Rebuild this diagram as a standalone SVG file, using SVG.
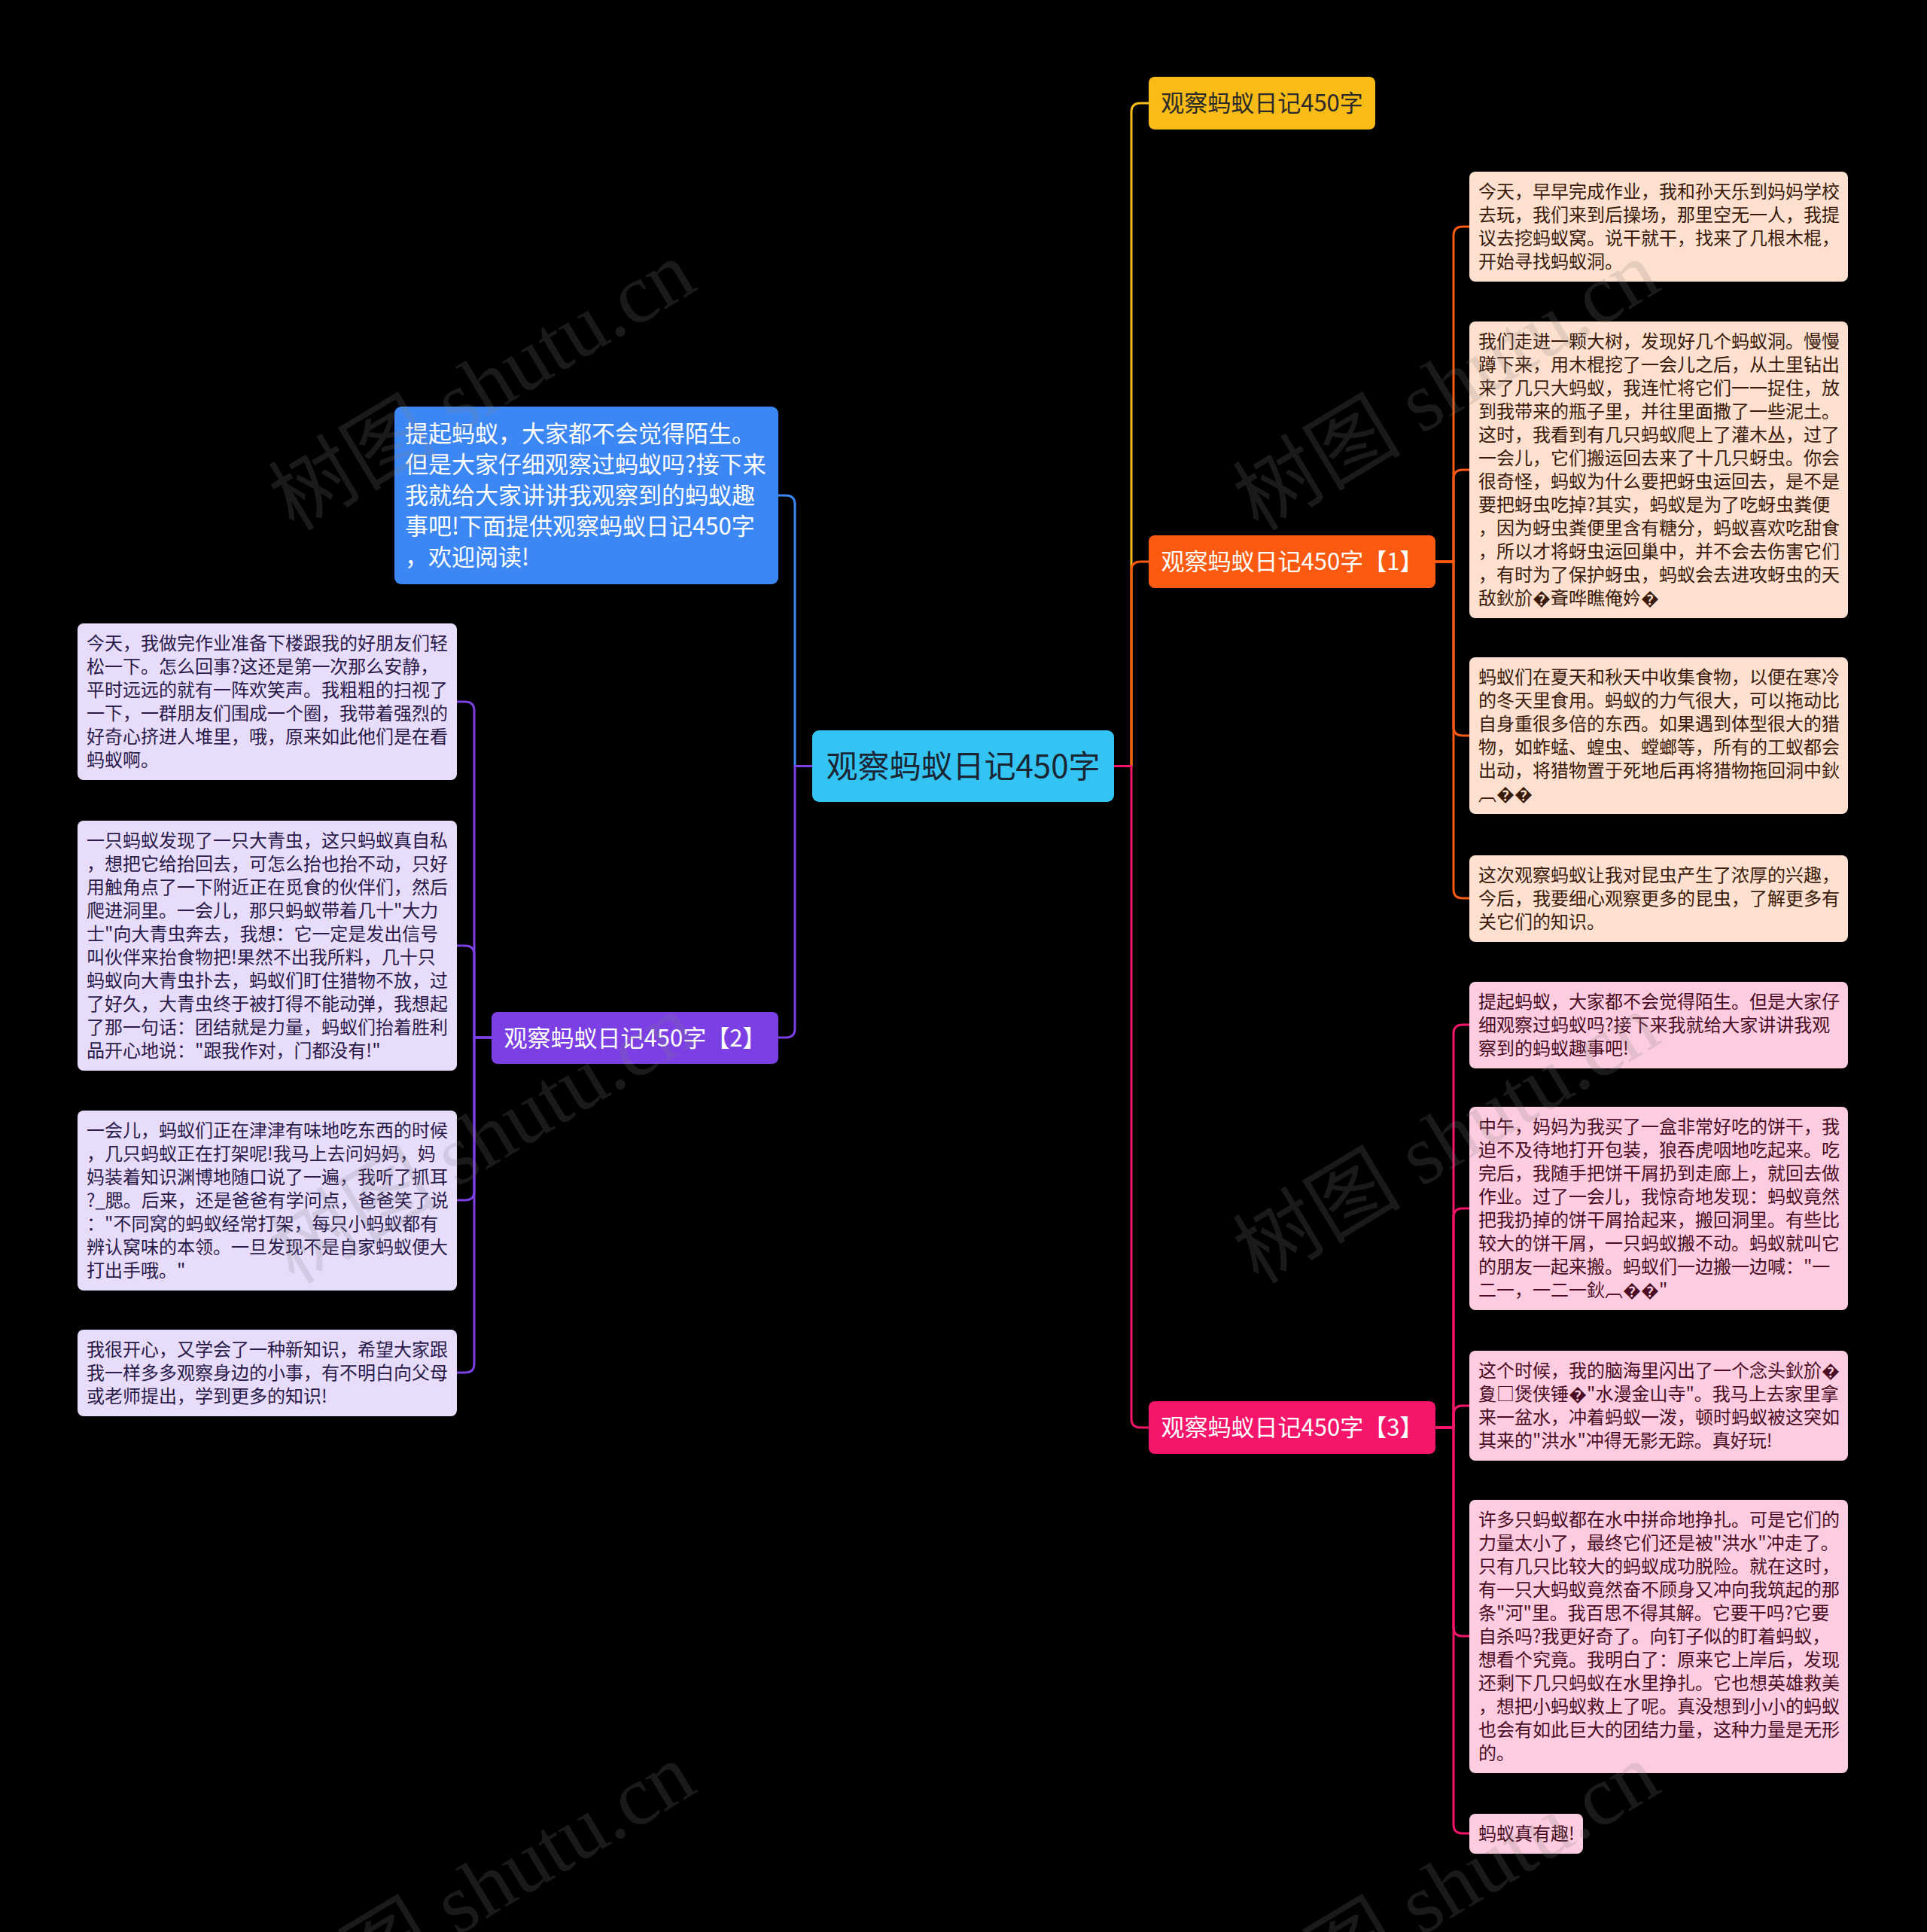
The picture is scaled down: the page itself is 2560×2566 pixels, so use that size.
<svg xmlns="http://www.w3.org/2000/svg" width="2560" height="2566" viewBox="0 0 2560 2566">
<style>
.bg{fill:#000}
.t{font-family:"Noto Sans CJK SC","Noto Sans",sans-serif}
.c{fill:none;stroke-width:3;stroke-linecap:round;stroke-linejoin:round}
.sm{font-size:24px}
.lav{fill:#e7dcfa}
.lavt{fill:#2a1a4a}
.pea{fill:#fde0cf}
.peat{fill:#3a1a0a}
.pnk{fill:#fdcce0}
.pnkt{fill:#4a0d24}
.main{font-size:31px}
.wm{font-family:"Liberation Serif","Noto Sans CJK SC",serif;font-size:112px;fill:#808080;fill-opacity:0.2}
</style>
<rect class="bg" x="0" y="0" width="2560" height="2566"/>

<g id="connectors">
  <path class="c" stroke="#f9bb16" d="M1480,1017.5 H1503 V149 Q1503,137 1515,137 H1526"/>
  <path class="c" stroke="#fc5a10" d="M1480,1017.5 H1503 V758 Q1503,746 1515,746 H1526"/>
  <path class="c" stroke="#f5166b" d="M1480,1017.5 H1503 V1884 Q1503,1896 1515,1896 H1526"/>
  <path class="c" stroke="#3c87f4" d="M1079,1017.5 H1056 V670 Q1056,658 1044,658 H1034"/>
  <path class="c" stroke="#7b3fe4" d="M1079,1017.5 H1056 V1366 Q1056,1378 1044,1378 H1034"/>
  <path class="c" stroke="#fc5a10" d="M1907,746 H1931 V313 Q1931,301 1943,301 H1952"/>
  <path class="c" stroke="#fc5a10" d="M1907,746 H1931 V636 Q1931,624 1943,624 H1952"/>
  <path class="c" stroke="#fc5a10" d="M1907,746 H1931 V965 Q1931,977 1943,977 H1952"/>
  <path class="c" stroke="#fc5a10" d="M1907,746 H1931 V1181 Q1931,1193 1943,1193 H1952"/>
  <path class="c" stroke="#f5166b" d="M1907,1896 H1931 V1373 Q1931,1361 1943,1361 H1952"/>
  <path class="c" stroke="#f5166b" d="M1907,1896 H1931 V1617 Q1931,1605 1943,1605 H1952"/>
  <path class="c" stroke="#f5166b" d="M1907,1896 H1931 V1879 Q1931,1867 1943,1867 H1952"/>
  <path class="c" stroke="#f5166b" d="M1907,1896 H1931 V2161 Q1931,2173 1943,2173 H1952"/>
  <path class="c" stroke="#f5166b" d="M1907,1896 H1931 V2423 Q1931,2435 1943,2435 H1952"/>
  <path class="c" stroke="#7b3fe4" d="M653,1378 H630 V944 Q630,932 618,932 H607"/>
  <path class="c" stroke="#7b3fe4" d="M653,1378 H630 V1268 Q630,1256 618,1256 H607"/>
  <path class="c" stroke="#7b3fe4" d="M653,1378 H630 V1582 Q630,1594 618,1594 H607"/>
  <path class="c" stroke="#7b3fe4" d="M653,1378 H630 V1811 Q630,1823 618,1823 H607"/>
</g>

<g id="root">
  <rect x="1079" y="970" width="401" height="95" rx="9" fill="#33c4f4"/>
  <text class="t" x="1279.5" y="1033" font-size="42" text-anchor="middle" fill="#1a2633">观察蚂蚁日记450字</text>
</g>

<g id="n-yellow">
  <rect x="1526" y="102" width="301" height="70" rx="8" fill="#f9bb16"/>
  <text class="t main" x="1676.5" y="148" text-anchor="middle" fill="#2a2a2a">观察蚂蚁日记450字</text>
</g>

<g id="n-1">
  <rect x="1526" y="711" width="381" height="70" rx="8" fill="#fc5a10"/>
  <text class="t main" x="1716.5" y="757" text-anchor="middle" fill="#ffffff">观察蚂蚁日记450字【1】</text>
</g>

<g id="n-3">
  <rect x="1526" y="1861" width="381" height="70" rx="8" fill="#f5166b"/>
  <text class="t main" x="1716.5" y="1907" text-anchor="middle" fill="#ffffff">观察蚂蚁日记450字【3】</text>
</g>

<g id="n-2">
  <rect x="653" y="1344" width="381" height="69" rx="8" fill="#7b3fe4"/>
  <text class="t main" x="843.5" y="1390" text-anchor="middle" fill="#ffffff">观察蚂蚁日记450字【2】</text>
</g>

<g id="n-intro">
  <rect x="524" y="540" width="510" height="236" rx="9" fill="#3c87f4"/>
  <text class="t" font-size="31" fill="#ffffff">
    <tspan x="538" y="587">提起蚂蚁，大家都不会觉得陌生。</tspan>
    <tspan x="538" y="628">但是大家仔细观察过蚂蚁吗?接下来</tspan>
    <tspan x="538" y="669">我就给大家讲讲我观察到的蚂蚁趣</tspan>
    <tspan x="538" y="710">事吧!下面提供观察蚂蚁日记450字</tspan>
    <tspan x="538" y="751">，欢迎阅读!</tspan>
  </text>
</g>

<g id="l-1">
  <rect class="lav" x="103" y="828" width="504" height="208" rx="8"/>
  <text class="t sm lavt">
    <tspan x="115" y="863">今天，我做完作业准备下楼跟我的好朋友们轻</tspan>
    <tspan x="115" y="894">松一下。怎么回事?这还是第一次那么安静，</tspan>
    <tspan x="115" y="925">平时远远的就有一阵欢笑声。我粗粗的扫视了</tspan>
    <tspan x="115" y="956">一下，一群朋友们围成一个圈，我带着强烈的</tspan>
    <tspan x="115" y="987">好奇心挤进人堆里，哦，原来如此他们是在看</tspan>
    <tspan x="115" y="1018">蚂蚁啊。</tspan>
  </text>
</g>

<g id="l-2">
  <rect class="lav" x="103" y="1090" width="504" height="332" rx="8"/>
  <text class="t sm lavt">
    <tspan x="115" y="1125">一只蚂蚁发现了一只大青虫，这只蚂蚁真自私</tspan>
    <tspan x="115" y="1156">，想把它给抬回去，可怎么抬也抬不动，只好</tspan>
    <tspan x="115" y="1187">用触角点了一下附近正在觅食的伙伴们，然后</tspan>
    <tspan x="115" y="1218">爬进洞里。一会儿，那只蚂蚁带着几十"大力</tspan>
    <tspan x="115" y="1249">士"向大青虫奔去，我想：它一定是发出信号</tspan>
    <tspan x="115" y="1280">叫伙伴来抬食物把!果然不出我所料，几十只</tspan>
    <tspan x="115" y="1311">蚂蚁向大青虫扑去，蚂蚁们盯住猎物不放，过</tspan>
    <tspan x="115" y="1342">了好久，大青虫终于被打得不能动弹，我想起</tspan>
    <tspan x="115" y="1373">了那一句话：团结就是力量，蚂蚁们抬着胜利</tspan>
    <tspan x="115" y="1404">品开心地说："跟我作对，门都没有!"</tspan>
  </text>
</g>

<g id="l-3">
  <rect class="lav" x="103" y="1475" width="504" height="239" rx="8"/>
  <text class="t sm lavt">
    <tspan x="115" y="1510">一会儿，蚂蚁们正在津津有味地吃东西的时候</tspan>
    <tspan x="115" y="1541">，几只蚂蚁正在打架呢!我马上去问妈妈，妈</tspan>
    <tspan x="115" y="1572">妈装着知识渊博地随口说了一遍，我听了抓耳</tspan>
    <tspan x="115" y="1603">?_腮。后来，还是爸爸有学问点，爸爸笑了说</tspan>
    <tspan x="115" y="1634">："不同窝的蚂蚁经常打架，每只小蚂蚁都有</tspan>
    <tspan x="115" y="1665">辨认窝味的本领。一旦发现不是自家蚂蚁便大</tspan>
    <tspan x="115" y="1696">打出手哦。"</tspan>
  </text>
</g>

<g id="l-4">
  <rect class="lav" x="103" y="1766" width="504" height="115" rx="8"/>
  <text class="t sm lavt">
    <tspan x="115" y="1801">我很开心，又学会了一种新知识，希望大家跟</tspan>
    <tspan x="115" y="1832">我一样多多观察身边的小事，有不明白向父母</tspan>
    <tspan x="115" y="1863">或老师提出，学到更多的知识!</tspan>
  </text>
</g>

<g id="o-1">
  <rect class="pea" x="1952" y="228" width="503" height="146" rx="8"/>
  <text class="t sm peat">
    <tspan x="1964" y="263">今天，早早完成作业，我和孙天乐到妈妈学校</tspan>
    <tspan x="1964" y="294">去玩，我们来到后操场，那里空无一人，我提</tspan>
    <tspan x="1964" y="325">议去挖蚂蚁窝。说干就干，找来了几根木棍，</tspan>
    <tspan x="1964" y="356">开始寻找蚂蚁洞。</tspan>
  </text>
</g>

<g id="o-2">
  <rect class="pea" x="1952" y="427" width="503" height="394" rx="8"/>
  <text class="t sm peat">
    <tspan x="1964" y="462">我们走进一颗大树，发现好几个蚂蚁洞。慢慢</tspan>
    <tspan x="1964" y="493">蹲下来，用木棍挖了一会儿之后，从土里钻出</tspan>
    <tspan x="1964" y="524">来了几只大蚂蚁，我连忙将它们一一捉住，放</tspan>
    <tspan x="1964" y="555">到我带来的瓶子里，并往里面撒了一些泥土。</tspan>
    <tspan x="1964" y="586">这时，我看到有几只蚂蚁爬上了灌木丛，过了</tspan>
    <tspan x="1964" y="617">一会儿，它们搬运回去来了十几只蚜虫。你会</tspan>
    <tspan x="1964" y="648">很奇怪，蚂蚁为什么要把蚜虫运回去，是不是</tspan>
    <tspan x="1964" y="679">要把蚜虫吃掉?其实，蚂蚁是为了吃蚜虫粪便</tspan>
    <tspan x="1964" y="710">，因为蚜虫粪便里含有糖分，蚂蚁喜欢吃甜食</tspan>
    <tspan x="1964" y="741">，所以才将蚜虫运回巢中，并不会去伤害它们</tspan>
    <tspan x="1964" y="772">，有时为了保护蚜虫，蚂蚁会去进攻蚜虫的天</tspan>
    <tspan x="1964" y="803">敌鈥斺�斊哗瞧俺妗�</tspan>
  </text>
</g>

<g id="o-3">
  <rect class="pea" x="1952" y="873" width="503" height="208" rx="8"/>
  <text class="t sm peat">
    <tspan x="1964" y="908">蚂蚁们在夏天和秋天中收集食物，以便在寒冷</tspan>
    <tspan x="1964" y="939">的冬天里食用。蚂蚁的力气很大，可以拖动比</tspan>
    <tspan x="1964" y="970">自身重很多倍的东西。如果遇到体型很大的猎</tspan>
    <tspan x="1964" y="1001">物，如蚱蜢、蝗虫、螳螂等，所有的工蚁都会</tspan>
    <tspan x="1964" y="1032">出动，将猎物置于死地后再将猎物拖回洞中鈥</tspan>
    <tspan x="1964" y="1063">︹��</tspan>
  </text>
</g>

<g id="o-4">
  <rect class="pea" x="1952" y="1136" width="503" height="115" rx="8"/>
  <text class="t sm peat">
    <tspan x="1964" y="1171">这次观察蚂蚁让我对昆虫产生了浓厚的兴趣，</tspan>
    <tspan x="1964" y="1202">今后，我要细心观察更多的昆虫，了解更多有</tspan>
    <tspan x="1964" y="1233">关它们的知识。</tspan>
  </text>
</g>

<g id="p-1">
  <rect class="pnk" x="1952" y="1304" width="503" height="115" rx="8"/>
  <text class="t sm pnkt">
    <tspan x="1964" y="1339">提起蚂蚁，大家都不会觉得陌生。但是大家仔</tspan>
    <tspan x="1964" y="1370">细观察过蚂蚁吗?接下来我就给大家讲讲我观</tspan>
    <tspan x="1964" y="1401">察到的蚂蚁趣事吧!</tspan>
  </text>
</g>

<g id="p-2">
  <rect class="pnk" x="1952" y="1470" width="503" height="270" rx="8"/>
  <text class="t sm pnkt">
    <tspan x="1964" y="1505">中午，妈妈为我买了一盒非常好吃的饼干，我</tspan>
    <tspan x="1964" y="1536">迫不及待地打开包装，狼吞虎咽地吃起来。吃</tspan>
    <tspan x="1964" y="1567">完后，我随手把饼干屑扔到走廊上，就回去做</tspan>
    <tspan x="1964" y="1598">作业。过了一会儿，我惊奇地发现：蚂蚁竟然</tspan>
    <tspan x="1964" y="1629">把我扔掉的饼干屑拾起来，搬回洞里。有些比</tspan>
    <tspan x="1964" y="1660">较大的饼干屑，一只蚂蚁搬不动。蚂蚁就叫它</tspan>
    <tspan x="1964" y="1691">的朋友一起来搬。蚂蚁们一边搬一边喊："一</tspan>
    <tspan x="1964" y="1722">二一，一二一鈥︹��"</tspan>
  </text>
</g>

<g id="p-3">
  <rect class="pnk" x="1952" y="1794" width="503" height="146" rx="8"/>
  <text class="t sm pnkt">
    <tspan x="1964" y="1829">这个时候，我的脑海里闪出了一个念头鈥斺�</tspan>
    <tspan x="1964" y="1860">夐□煲侠锤�"水漫金山寺"。我马上去家里拿</tspan>
    <tspan x="1964" y="1891">来一盆水，冲着蚂蚁一泼，顿时蚂蚁被这突如</tspan>
    <tspan x="1964" y="1922">其来的"洪水"冲得无影无踪。真好玩!</tspan>
  </text>
</g>

<g id="p-4">
  <rect class="pnk" x="1952" y="1992" width="503" height="363" rx="8"/>
  <text class="t sm pnkt">
    <tspan x="1964" y="2027">许多只蚂蚁都在水中拼命地挣扎。可是它们的</tspan>
    <tspan x="1964" y="2058">力量太小了，最终它们还是被"洪水"冲走了。</tspan>
    <tspan x="1964" y="2089">只有几只比较大的蚂蚁成功脱险。就在这时，</tspan>
    <tspan x="1964" y="2120">有一只大蚂蚁竟然奋不顾身又冲向我筑起的那</tspan>
    <tspan x="1964" y="2151">条"河"里。我百思不得其解。它要干吗?它要</tspan>
    <tspan x="1964" y="2182">自杀吗?我更好奇了。向钉子似的盯着蚂蚁，</tspan>
    <tspan x="1964" y="2213">想看个究竟。我明白了：原来它上岸后，发现</tspan>
    <tspan x="1964" y="2244">还剩下几只蚂蚁在水里挣扎。它也想英雄救美</tspan>
    <tspan x="1964" y="2275">，想把小蚂蚁救上了呢。真没想到小小的蚂蚁</tspan>
    <tspan x="1964" y="2306">也会有如此巨大的团结力量，这种力量是无形</tspan>
    <tspan x="1964" y="2337">的。</tspan>
  </text>
</g>

<g id="p-5">
  <rect class="pnk" x="1952" y="2409" width="151" height="53" rx="8"/>
  <text class="t sm pnkt"><tspan x="1964" y="2444">蚂蚁真有趣!</tspan></text>
</g>

<g id="watermarks">
  <text class="wm" x="642" y="550" text-anchor="middle" transform="rotate(-31 642 515)">树图 shutu.cn</text>
  <text class="wm" x="1923" y="550" text-anchor="middle" transform="rotate(-31 1923 515)">树图 shutu.cn</text>
  <text class="wm" x="642" y="1550" text-anchor="middle" transform="rotate(-31 642 1515)">树图 shutu.cn</text>
  <text class="wm" x="1923" y="1550" text-anchor="middle" transform="rotate(-31 1923 1515)">树图 shutu.cn</text>
  <text class="wm" x="642" y="2545" text-anchor="middle" transform="rotate(-31 642 2510)">树图 shutu.cn</text>
  <text class="wm" x="1923" y="2545" text-anchor="middle" transform="rotate(-31 1923 2510)">树图 shutu.cn</text>
</g>
</svg>
